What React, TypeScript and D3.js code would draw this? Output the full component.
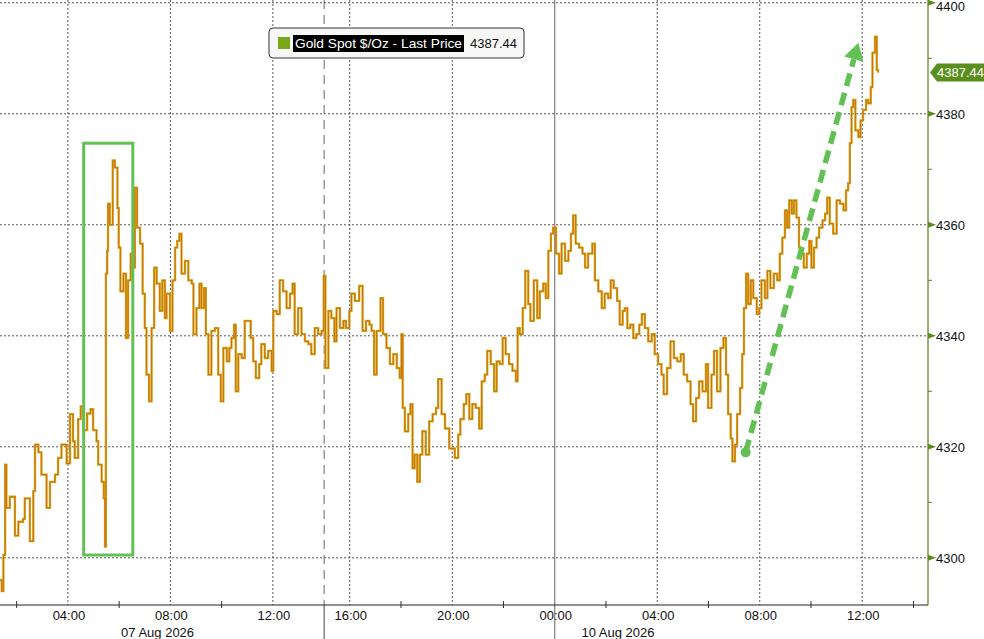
import React from 'react';
import * as d3 from 'd3';

// session minutes: Fri 00:00 = 0, Fri session closes at 840 (14:00),
// Sunday session resumes at 15:00 (= 840) so Mon 00:00 = 1380
const fridaySession: [number, number][] = [
  [81, 4296], [85, 4294], [89, 4300.5], [93, 4316.8], [96, 4309], [104, 4311], [116, 4304],
  [124, 4306.5], [135, 4307], [139, 4310.7], [151, 4303], [159, 4312], [163, 4320.4], [171, 4319],
  [178, 4315], [190, 4309], [198, 4313.7], [210, 4315], [217, 4318], [225, 4320.4], [237, 4317],
  [245, 4325.9], [252, 4321], [256, 4318], [264, 4325], [270, 4327.3], [276, 4323], [285, 4326],
  [293, 4326.8], [299, 4323], [307, 4321], [311, 4316.8], [319, 4313.7], [324, 4310.7], [327, 4302],
  [329, 4351.2], [332, 4355.3], [334, 4363.8], [338, 4360], [345, 4371.6], [350, 4370.3], [356, 4363],
  [359, 4355.9], [363, 4348], [370, 4351.2], [376, 4339.6], [381, 4350], [387, 4354.8], [391, 4352.3],
  [397, 4366.7], [402, 4359.5], [409, 4356.6], [415, 4347.6], [420, 4341.4], [424, 4333], [430, 4328.2],
  [436, 4341.4], [442, 4352.3], [448, 4349.4], [455, 4344.5], [461, 4350], [467, 4343.2], [471, 4347.6],
  [479, 4340.9], [485, 4350], [491, 4355.9], [496, 4357.1], [501, 4358.4], [506, 4351.2], [514, 4353.5],
  [522, 4350], [530, 4349.4], [534, 4340.3], [541, 4345], [548, 4349.4], [553, 4345], [559, 4348.6],
  [563, 4340.3], [569, 4333], [576, 4340.9], [584, 4341.4], [592, 4333], [598, 4328.2], [604, 4337.8],
  [612, 4335.4], [618, 4337.8], [623, 4339.6], [629, 4342], [633, 4330], [639, 4336.7], [647, 4336],
  [654, 4342.7], [662, 4342.7], [668, 4339.6], [674, 4335.4], [680, 4332.4], [688, 4334.9], [693, 4338.5],
  [701, 4336], [709, 4337.3], [717, 4333.7], [721, 4344.5], [729, 4343.9], [736, 4350], [744, 4348],
  [752, 4345], [760, 4347.6], [766, 4349.4], [771, 4340.3], [779, 4345], [787, 4340.3], [795, 4339],
  [803, 4338.5], [810, 4336.7], [818, 4341.4], [826, 4340.3], [834, 4340.9], [839, 4350.8],
];

const mondaySession: [number, number][] = [
  [843, 4334.2], [850, 4344.5], [857, 4343.2], [864, 4339], [869, 4345], [877, 4341.4], [885, 4342.7],
  [891, 4341.4], [899, 4344.5], [904, 4347.6], [912, 4346.3], [922, 4349], [930, 4340.9], [938, 4342.7],
  [946, 4342], [951, 4340.9], [957, 4333], [963, 4340.9], [972, 4346.8], [978, 4340.3], [986, 4337.8],
  [994, 4334.9], [1002, 4336.7], [1010, 4334.2], [1017, 4332.4], [1021, 4340.3], [1024, 4327],
  [1029, 4322.8], [1037, 4325.9], [1042, 4327.7], [1047, 4316.1], [1052, 4318.6], [1058, 4313.7],
  [1064, 4318.6], [1070, 4322.8], [1078, 4318.6], [1086, 4324.6], [1094, 4325.9], [1102, 4327],
  [1107, 4332.2], [1115, 4325.9], [1123, 4323.3], [1133, 4319.7], [1146, 4318], [1154, 4322.2],
  [1159, 4325], [1167, 4327.7], [1173, 4329.5], [1180, 4325], [1187, 4327.7], [1195, 4327], [1203, 4323.3],
  [1209, 4331.8], [1216, 4333], [1222, 4337.3], [1230, 4334.9], [1238, 4330], [1244, 4335.4], [1251, 4334.9],
  [1258, 4339.6], [1265, 4336.7], [1273, 4334.9], [1281, 4333.7], [1289, 4331.8], [1293, 4341.4],
  [1298, 4340.3], [1305, 4345], [1311, 4351.7], [1318, 4345.7], [1323, 4342.7], [1331, 4350], [1339, 4343.2],
  [1345, 4348], [1353, 4349.4], [1359, 4346.8], [1365, 4355.3], [1371, 4358.4], [1376, 4359.5],
  [1383, 4354.8], [1390, 4351.2], [1396, 4356.6], [1404, 4353.5], [1412, 4355.3], [1418, 4358.4],
  [1423, 4361.7], [1429, 4356.6], [1437, 4355.9], [1445, 4354.8], [1451, 4352.3], [1458, 4354.8],
  [1468, 4356.6], [1474, 4350], [1482, 4348], [1490, 4345], [1497, 4347.6], [1505, 4346.8], [1511, 4350],
  [1518, 4348.6], [1526, 4346.3], [1532, 4342], [1539, 4344.5], [1544, 4345], [1550, 4341.4], [1557, 4342],
  [1564, 4339.6], [1571, 4340.3], [1578, 4342], [1584, 4343.9], [1591, 4341.4], [1599, 4339], [1607, 4340.3],
  [1614, 4336.7], [1622, 4334.9], [1630, 4333], [1635, 4329.5], [1643, 4334.2], [1651, 4339], [1659, 4336],
  [1667, 4335.4], [1675, 4336.7], [1682, 4333], [1690, 4331.8], [1698, 4327.7], [1704, 4324.6],
  [1711, 4328.8], [1718, 4331.8], [1726, 4330], [1734, 4334.9], [1739, 4327], [1747, 4333], [1753, 4337.3],
  [1760, 4330], [1768, 4337.8], [1775, 4339.6], [1781, 4333], [1786, 4325.9], [1792, 4321.5],
  [1796, 4317.4], [1802, 4320.4], [1807, 4325.9], [1814, 4330.6], [1819, 4336.7], [1823, 4345],
  [1828, 4351.2], [1833, 4345.7], [1839, 4350], [1845, 4346.8], [1853, 4343.9], [1859, 4345], [1864, 4350],
  [1872, 4346.8], [1878, 4351.7], [1885, 4348.6], [1893, 4351.2], [1901, 4350], [1907, 4354.8],
  [1913, 4357.7], [1919, 4362.6], [1924, 4359.5], [1929, 4364.4], [1935, 4362], [1940, 4364.4],
  [1946, 4361.3], [1952, 4355.9], [1958, 4354.8], [1963, 4352.3], [1970, 4354.8], [1976, 4357.1],
  [1981, 4352.3], [1987, 4355.9], [1993, 4357.7], [1999, 4359.5], [2007, 4360.8], [2013, 4362],
  [2018, 4364.9], [2024, 4360.2], [2032, 4358.4], [2040, 4364.4], [2048, 4363.8], [2056, 4362.6],
  [2062, 4366.2], [2067, 4367.5], [2071, 4374.7], [2075, 4381.2], [2079, 4382.5], [2084, 4377],
  [2091, 4375.8], [2096, 4378.8], [2102, 4380.7], [2109, 4382.5], [2114, 4381.9], [2120, 4384.8],
  [2124, 4391], [2130, 4393.9], [2134, 4387.9], [2137, 4387.44],
];

const lastPrice = 4387.44;
const seriesName = 'Gold Spot $/Oz - Last Price';

const yTicks = [4300, 4320, 4340, 4360, 4380, 4400];
const yMinorTicks = [4310, 4330, 4350, 4370, 4390];

const xTickMinutes = [240, 480, 720, 900, 1140, 1380, 1620, 1860, 2100];
const xTickLabels = ['04:00', '08:00', '12:00', '16:00', '20:00', '00:00', '04:00', '08:00', '12:00'];
const xMinorTicks = [120, 360, 600, 1020, 1260, 1500, 1740, 1980, 2220];
const dateLabels = ['07 Aug 2026', '10 Aug 2026'];
const dateLabelMinutes = [450, 1528];
const weekendBreak = 840;
const dayBoundary = 1380;

// annotations, in (minute, price) space
const boxMinutes = [277, 392];
const boxPrices = [4300.5, 4374.7];
const arrowMinutes = [1827, 2091];
const arrowPrices = [4319, 4392.8];

const FONT = "'Liberation Sans', Arial, sans-serif";
const GREEN = '#63c054';

export default function App() {
  const width = 984;
  const height = 639;
  const plotRight = 928;
  const plotBottom = 605;

  const x = d3.scaleLinear().domain([81, 2254]).range([0, plotRight]);
  const y = d3.scaleLinear().domain([4291.5, 4400.5]).range([plotBottom, 0]);

  const line = d3.line<[number, number]>()
    .x(d => x(d[0]))
    .y(d => y(d[1]))
    .curve(d3.curveStepAfter);
  const pricePath = line([...fridaySession, ...mondaySession]) || '';

  // arrow geometry
  const ax0 = x(arrowMinutes[0]), ay0 = y(arrowPrices[0]);
  const ax1 = x(arrowMinutes[1]), ay1 = y(arrowPrices[1]);
  const len = Math.hypot(ax1 - ax0, ay1 - ay0);
  const ux = (ax1 - ax0) / len, uy = (ay1 - ay0) / len;
  const headLen = 17, headHalf = 10;
  const bx = ax1 - ux * headLen, by = ay1 - uy * headLen;
  const head = [
    [ax1, ay1],
    [bx - uy * headHalf, by + ux * headHalf],
    [bx + uy * headHalf, by - ux * headHalf],
  ].map(p => p.join(',')).join(' ');

  const lastY = y(lastPrice);

  return (
    <div style={{ position: 'fixed', left: 0, top: 0 }}>
      <svg width={width} height={height} style={{ display: 'block', background: '#fff' }}>
        {/* horizontal grid */}
        {yTicks.map(t => (
          <line key={'hg' + t} x1={0} x2={plotRight} y1={y(t)} y2={y(t)}
            stroke="#555" strokeWidth={1} strokeDasharray="2,2" />
        ))}
        {/* vertical grid */}
        {xTickMinutes.map((m, i) => m === dayBoundary ? null : (
          <line key={'vg' + i} x1={x(m)} x2={x(m)} y1={0} y2={plotBottom}
            stroke="#555" strokeWidth={1} strokeDasharray="2,2" />
        ))}
        <line x1={x(dayBoundary)} x2={x(dayBoundary)} y1={0} y2={height} stroke="#666" strokeWidth={1} />
        <line x1={x(weekendBreak)} x2={x(weekendBreak)} y1={0} y2={plotBottom}
          stroke="#666" strokeWidth={1} strokeDasharray="9,6" />
        <line x1={x(weekendBreak)} x2={x(weekendBreak)} y1={plotBottom} y2={height} stroke="#444" strokeWidth={1} />

        {/* price */}
        <path d={pricePath} fill="none" stroke="#d3aa10" strokeWidth={2.3} strokeLinejoin="miter" />
        <path d={pricePath} fill="none" stroke="#cc661c" strokeWidth={0.9} strokeLinejoin="miter" />

        {/* annotations */}
        <rect x={x(boxMinutes[0])} y={y(boxPrices[1])}
          width={x(boxMinutes[1]) - x(boxMinutes[0])} height={y(boxPrices[0]) - y(boxPrices[1])}
          fill="none" stroke={GREEN} strokeWidth={3} />
        <line x1={ax0} y1={ay0} x2={bx} y2={by} stroke={GREEN} strokeWidth={5.5} strokeDasharray="13,7" />
        <circle cx={ax0} cy={ay0} r={5} fill={GREEN} />
        <polygon points={head} fill={GREEN} />

        {/* bottom axis */}
        <line x1={0} x2={plotRight} y1={plotBottom} y2={plotBottom} stroke="#222" strokeWidth={1} />
        {xMinorTicks.map(m => (
          <line key={'mt' + m} x1={x(m)} x2={x(m)} y1={plotBottom - 4} y2={plotBottom + 3} stroke="#333" />
        ))}
        {xTickMinutes.map((m, i) => (
          <text key={'xl' + i} x={x(m) + 1} y={plotBottom + 15} textAnchor="middle"
            fontFamily={FONT} fontSize={13} fill="#111">{xTickLabels[i]}</text>
        ))}
        {dateLabels.map((d, i) => (
          <text key={'dl' + i} x={x(dateLabelMinutes[i])} y={plotBottom + 32} textAnchor="middle"
            fontFamily={FONT} fontSize={13} fill="#111">{d}</text>
        ))}

        {/* right axis */}
        <line x1={plotRight} x2={plotRight} y1={0} y2={plotBottom} stroke="#5c7d1c" strokeWidth={1.2} />
        {yMinorTicks.map(t => (
          <line key={'ym' + t} x1={plotRight} x2={plotRight + 4} y1={y(t)} y2={y(t)} stroke="#5c7d1c" />
        ))}
        {yTicks.map(t => (
          <g key={'yt' + t}>
            <polygon points={`${plotRight},${y(t) - 3} ${plotRight + 8},${y(t)} ${plotRight},${y(t) + 3}`} fill="#5c8a1c" />
            <text x={plotRight + 8} y={Math.max(y(t) + 5, 11)} fontFamily={FONT} fontSize={13} fill="#111">{t}</text>
          </g>
        ))}
        {/* last price tag */}
        <polygon
          points={`${plotRight + 2},${lastY} ${plotRight + 9},${lastY - 9} ${width},${lastY - 9} ${width},${lastY + 9} ${plotRight + 9},${lastY + 9}`}
          fill="#5a8f1e" />
        <text x={plotRight + 9} y={lastY + 5} fontFamily={FONT} fontSize={13} fill="#fff">{lastPrice.toFixed(2)}</text>

        {/* legend */}
        <rect x={269} y={28} width={255} height={30} rx={4} fill="#f7f7f7" stroke="#333" strokeWidth={1} />
        <rect x={278} y={37} width={12} height={12} fill="#78a81a" />
        <rect x={293} y={35} width={171} height={17} fill="#000" />
        <text x={295} y={48} fontFamily={FONT} fontSize={13} fill="#fff" textLength={167} lengthAdjust="spacingAndGlyphs">{seriesName}</text>
        <text x={470} y={48} fontFamily={FONT} fontSize={13} fill="#111">{lastPrice.toFixed(2)}</text>
      </svg>
    </div>
  );
}
